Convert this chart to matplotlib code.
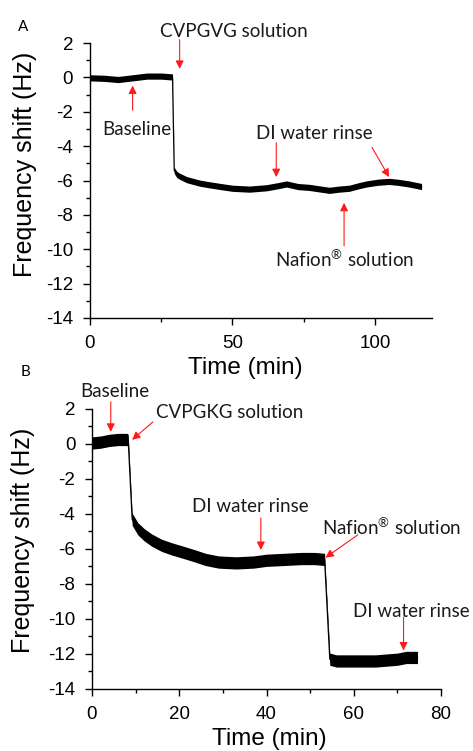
import matplotlib
matplotlib.use("Agg")
import matplotlib.pyplot as plt
from matplotlib.ticker import MultipleLocator
import numpy as np

# ---------------- data ----------------
time_a = [0, 5, 10, 15, 20, 25, 29.0, 29.6, 30.5, 31.5, 34, 38.5, 42, 45.5, 50, 56,
          62, 66, 69, 73, 77, 84, 87.4, 91, 94.4, 97, 101, 105, 108, 112, 116.4]
freq_a = [-0.02, -0.05, -0.12, -0.02, 0.08, 0.08, 0.03, -5.4, -5.65, -5.75, -5.95,
          -6.15, -6.25, -6.34, -6.45, -6.5, -6.42, -6.3, -6.2, -6.35, -6.4, -6.57,
          -6.5, -6.45, -6.3, -6.2, -6.1, -6.05, -6.1, -6.2, -6.35]
noise_a = 0.18

time_b = [0, 2, 4, 6, 8, 8.3, 9.2, 10.5, 12, 13.7, 16, 18.3, 21, 23.6, 26, 29, 33,
          37, 40, 44, 48, 51, 53.3, 54.5, 56, 60, 65, 70, 72, 74.6]
freq_b = [0.05, 0.1, 0.2, 0.25, 0.25, 0.2, -4.3, -4.85, -5.2, -5.5, -5.8, -6.0,
          -6.2, -6.4, -6.6, -6.75, -6.8, -6.75, -6.65, -6.6, -6.55, -6.55, -6.6,
          -12.3, -12.4, -12.4, -12.4, -12.3, -12.2, -12.2]
noise_b = 0.35

y_ticks = [-14, -12, -10, -8, -6, -4, -2, 0, 2]
x_ticks_a = [0, 50, 100]
x_ticks_b = [0, 20, 40, 60, 80]

NAFION = r"Nafion$^{\mathrm{®}}$ solution"

# annotations: (label, text_xy, arrow_tail, arrow_tip)
notes_a = [
    ("CVPGVG solution", (50.7, 2.67), (31.5, 2.2), (31.5, 0.5)),
    ("Baseline", (16.4, -3.0), (15.0, -1.9), (15.0, -0.47)),
    ("DI water rinse", (78.7, -3.26), (65.4, -3.8), (65.4, -5.8)),
    (None, None, (99.0, -4.07), (105.0, -5.8)),
    (NAFION, (89.2, -10.6), (89.2, -9.8), (89.2, -7.3)),
]
notes_b = [
    ("Baseline", (5.3, 2.97), (4.3, 2.4), (4.3, 0.69)),
    ("CVPGKG solution", (31.5, 1.77), (14.0, 1.26), (9.2, 0.23)),
    ("DI water rinse", (36.2, -3.6), (38.7, -4.23), (38.7, -6.06)),
    (NAFION, (68.7, -4.74), (60.9, -5.2), (53.5, -6.5)),
    ("DI water rinse", (73.2, -9.6), (71.4, -9.9), (71.4, -11.8)),
]

# ---------------- style ----------------
plt.rcParams['font.family'] = ['Liberation Sans', 'DejaVu Sans']
plt.rcParams['axes.unicode_minus'] = False
plt.rcParams['mathtext.fontset'] = 'custom'
plt.rcParams['mathtext.rm'] = 'Lato'
plt.rcParams['mathtext.it'] = 'Lato:italic'
plt.rcParams['mathtext.bf'] = 'Lato:bold'
ANN_FONT = ['Lato', 'DejaVu Sans']

fig = plt.figure(figsize=(4.73, 7.51), dpi=100)
ax_a = fig.add_axes([0.190, 0.5766, 0.723, 0.366])
ax_b = fig.add_axes([0.1945, 0.0826, 0.738, 0.373])


def style_axes(ax, xlim, xticks, xminor):
    ax.set_xlim(*xlim)
    ax.set_ylim(-14, 2)
    ax.set_xticks(xticks)
    ax.set_yticks(y_ticks)
    ax.xaxis.set_minor_locator(MultipleLocator(xminor))
    ax.yaxis.set_minor_locator(MultipleLocator(1))
    for s in ['top', 'right']:
        ax.spines[s].set_visible(False)
    for s in ['left', 'bottom']:
        ax.spines[s].set_linewidth(1.0)
    ax.tick_params(which='major', direction='out', length=5, width=1.0,
                   labelsize=13.5, pad=7)
    ax.tick_params(which='minor', direction='out', length=3, width=1.0)
    ax.set_xlabel("Time (min)", fontsize=17.5)
    ax.set_ylabel("Frequency shift (Hz)", fontsize=18)


def draw_trace(ax, t, f, noise):
    t = np.asarray(t)
    f = np.asarray(f)
    ax.fill_between(t, f - noise, f + noise, color='black', lw=0)
    ax.plot(t, f, color='black', lw=0.9)


def draw_notes(ax, notes):
    for label, txy, tail, tip in notes:
        ax.annotate("", xy=tip, xytext=tail, annotation_clip=False,
                    arrowprops=dict(arrowstyle='-|>', color='#ff1a1a', lw=0.8,
                                    mutation_scale=12, shrinkA=0, shrinkB=0))
        if label:
            ax.text(txy[0], txy[1], label, ha='center', va='center',
                    fontsize=13.5, family=ANN_FONT, color='#1a1a1a', clip_on=False)


draw_trace(ax_a, time_a, freq_a, noise_a)
style_axes(ax_a, (0, 120), x_ticks_a, 25)
draw_notes(ax_a, notes_a)
ax_a.yaxis.set_label_coords(-0.155, 0.558)
ax_a.xaxis.set_label_coords(0.456, -0.142)

draw_trace(ax_b, time_b, freq_b, noise_b)
style_axes(ax_b, (0, 80), x_ticks_b, 10)
draw_notes(ax_b, notes_b)
ax_b.yaxis.set_label_coords(-0.163, 0.532)
ax_b.xaxis.set_label_coords(0.507, -0.139)

fig.text(0.049, 0.964, "A", fontsize=11, family=ANN_FONT, ha='center', va='center')
fig.text(0.053, 0.505, "B", fontsize=11, family=ANN_FONT, ha='center', va='center')

fig.savefig("out.png", dpi=100)
